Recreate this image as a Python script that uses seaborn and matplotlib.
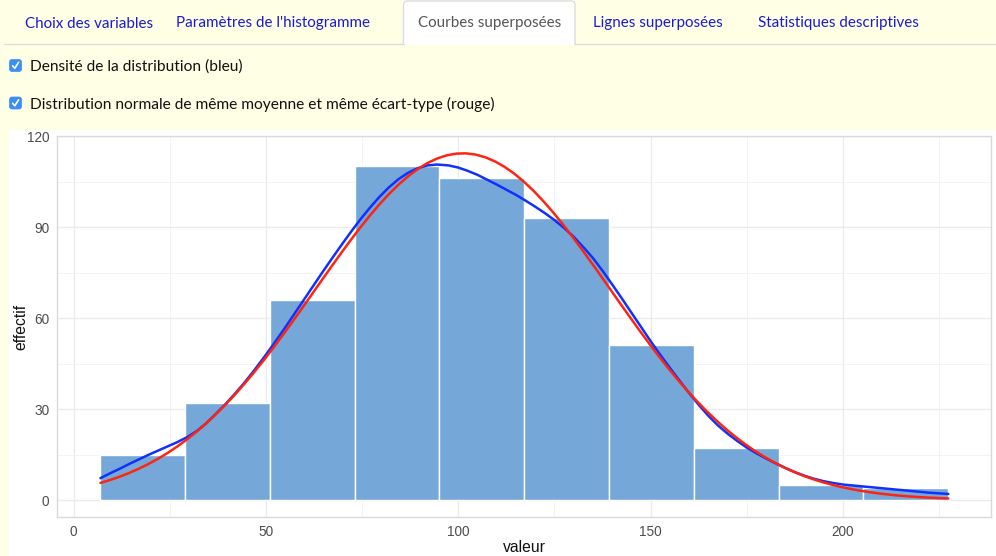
import numpy as np
import pandas as pd
import matplotlib
matplotlib.use("Agg")
import matplotlib.pyplot as plt
import seaborn as sns
from matplotlib.patches import FancyBboxPatch, Rectangle
from matplotlib.ticker import MultipleLocator, FixedLocator

# ---------------- data ----------------
tab_labels = ["Choix des variables", "Paramètres de l'histogramme",
              "Courbes superposées", "Lignes superposées",
              "Statistiques descriptives"]
active_tab = 2
checkbox_labels = ["Densité de la distribution (bleu)",
                   "Distribution normale de même moyenne et même écart-type (rouge)"]

bin_edges = [6.9, 28.95, 51.0, 73.05, 95.1, 117.15, 139.2, 161.25, 183.3, 205.35, 227.4]
bin_counts = [15, 32, 66, 110, 106, 93, 51, 17, 5, 4]

# density curve (blue)
kde_x = [7, 9.5, 12, 14.5, 17, 19.5, 22, 24.5, 27, 29.5, 32, 34.5, 37, 39.5,
         42, 44.5, 47, 49.5, 52, 54.5, 57, 59.5, 62, 64.5, 67, 69.5, 72, 74.5,
         77, 79.5, 82, 84.5, 87, 89.5, 92, 94.5,
         97.5, 100, 102.5, 105, 107.5, 110, 112.5, 115, 117.5, 120, 122.5, 125,
         127.5, 130, 132.5, 135, 137.5, 140, 142.5, 145, 147.5, 150, 152.5, 155,
         157.5, 160, 162.5, 165, 167.5, 170, 172.5, 175, 177.5, 180, 182.5, 185,
         187.5, 190, 192.5, 195, 197.5, 200, 202.5, 205, 207.5, 210, 212.5, 215,
         217.5, 220, 222.5, 225, 227.4]
kde_y = [7.2, 8.8, 10.3, 11.9, 13.4, 14.9, 16.3, 17.7, 19.1, 20.7, 22.7, 25.3,
         28.4, 31.6, 35.1, 38.8, 42.8, 47.0, 51.4, 55.9, 60.6, 65.3, 70.0, 74.7,
         79.3, 83.8, 88.2, 92.4, 96.3, 99.9, 103.1, 105.8, 107.9, 109.4, 110.3, 110.6,
         110.3, 109.6, 108.5, 107.2, 105.6, 104.0, 102.3, 100.6, 98.7, 96.7, 94.6,
         92.3, 89.7, 86.8, 83.4, 79.8, 75.6, 71.1, 66.5, 61.8, 57.1, 52.4, 47.9,
         43.6, 39.4, 35.3, 31.4, 27.8, 24.6, 21.9, 19.5, 17.3, 15.4, 13.7, 12.1,
         10.6, 9.2, 8.0, 7.0, 6.2, 5.6, 5.1, 4.8, 4.5, 4.2, 3.9, 3.6, 3.3, 3.0,
         2.7, 2.4, 2.2, 2.0]

# normal curve (red)
normal_x = [7, 9.5, 12, 14.5, 17, 19.5, 22, 24.5, 27, 29.5, 32, 34.5, 37, 39.5,
            42, 44.5, 47, 49.5, 52, 54.5, 57, 59.5, 62, 64.5, 67, 69.5, 72, 74.5,
            77, 79.5, 82, 84.5, 87, 89.5, 92, 94.5, 97, 99.5, 102, 104.5, 107,
            109.5, 112, 114.5, 117, 119.5, 122, 124.5, 127, 129.5, 132, 134.5,
            137, 139.5, 142, 144.5, 147, 149.5, 152, 154.5, 157, 159.5, 162,
            164.5, 167, 169.5, 172, 174.5, 177, 179.5, 182, 184.5, 187, 189.5,
            192, 194.5, 197, 199.5, 202, 204.5, 207, 209.5, 212, 214.5, 217,
            219.5, 222, 224.5, 227.4]
normal_y = [5.64, 6.60, 7.69, 8.93, 10.33, 11.89, 13.63, 15.55, 17.67, 20.00,
            22.53, 25.29, 28.26, 31.44, 34.83, 38.43, 42.21, 46.17, 50.30, 54.56,
            58.93, 63.38, 67.88, 72.39, 76.88, 81.29, 85.60, 89.76, 93.71, 97.43,
            100.87, 103.99, 106.75, 109.11, 111.07, 112.57, 113.62, 114.19, 114.28,
            113.88, 113.01, 111.66, 109.87, 107.65, 105.02, 102.03, 98.71, 95.08,
            91.21, 87.12, 82.86, 78.48, 74.02, 69.51, 64.99, 60.53, 56.12, 51.82,
            47.64, 43.62, 39.76, 36.10, 32.63, 29.38, 26.34, 23.50, 20.89, 18.48,
            16.29, 14.29, 12.49, 10.87, 9.42, 8.12, 6.98, 5.97, 5.09, 4.31, 3.65,
            3.07, 2.57, 2.14, 1.78, 1.47, 1.21, 0.99, 0.81, 0.66, 0.51]

x_ticks = [0, 50, 100, 150, 200]
y_ticks = [0, 30, 60, 90, 120]
x_label = "valeur"
y_label = "effectif"

# ---------------- figure ----------------
sns.set_theme(style="white")
plt.rcParams['font.family'] = ['Liberation Sans', 'DejaVu Sans']

W, H = 996, 556
BG = '#FFFFE6'
fig = plt.figure(figsize=(W / 100, H / 100), dpi=100)
fig.patch.set_facecolor(BG)

bg = fig.add_axes([0, 0, 1, 1])
bg.set_xlim(0, W)
bg.set_ylim(H, 0)
bg.axis('off')
bg.set_facecolor(BG)

# white plot region
bg.add_patch(Rectangle((9, 130), W - 9, H - 130, facecolor='white', edgecolor='none'))

# tab bar
tab_centers = [89.5, 272.5, 489.5, 657.5, 838.5]
tab_l, tab_r = 403.5, 575.0
bg.add_patch(FancyBboxPatch((tab_l, 1.0), tab_r - tab_l, 50,
                            boxstyle="round,pad=0,rounding_size=4",
                            facecolor='white', edgecolor='#DDDDDD', lw=1.0))
bg.add_patch(Rectangle((tab_l - 3, 44.5), tab_r - tab_l + 6, 12,
                       facecolor=BG, edgecolor='none'))
bg.plot([4, tab_l], [44, 44], color='#DDDDDD', lw=1.0)
bg.plot([tab_r, W], [44, 44], color='#DDDDDD', lw=1.0)
for i, (lab, cx) in enumerate(zip(tab_labels, tab_centers)):
    bg.text(cx, 23.5, lab, ha='center', va='center', fontsize=10.9,
            family=['Lato', 'DejaVu Sans'],
            color='#555555' if i == active_tab else '#1a1ad6')

# checkboxes
cb_y = [65.5, 103.0]
for lab, cy in zip(checkbox_labels, cb_y):
    bg.add_patch(FancyBboxPatch((9.5, cy - 6), 12, 12,
                                boxstyle="round,pad=0,rounding_size=2.5",
                                facecolor='#3B8FF2', edgecolor='#3B8FF2', lw=0.5))
    bg.plot([12.6, 14.8, 18.6], [cy + 0.3, cy + 2.8, cy - 3.2],
            color='white', lw=1.2, solid_capstyle='round')
    bg.text(30, cy + 1.5, lab, ha='left', va='center', fontsize=11.2,
            family=['Lato', 'DejaVu Sans'], color='#111111')

# ---------------- main plot ----------------
ax_l, ax_r, ax_t, ax_b = 57, 991, 136, 517
ax = fig.add_axes([ax_l / W, 1 - ax_b / H, (ax_r - ax_l) / W, (ax_b - ax_t) / H])
ax.set_facecolor('white')

centers = [(a + b) / 2 for a, b in zip(bin_edges[:-1], bin_edges[1:])]
hist_df = pd.DataFrame({"valeur": centers, "effectif": bin_counts})
sns.histplot(data=hist_df, x="valeur", weights="effectif", bins=bin_edges,
             ax=ax, color='#75A8D8', alpha=1.0, edgecolor='white', linewidth=1.0)

sns.lineplot(x=kde_x, y=kde_y, ax=ax, color='#1030FF', lw=1.8, estimator=None,
             sort=False, solid_joinstyle='round')
sns.lineplot(x=normal_x, y=normal_y, ax=ax, color='#FF2410', lw=1.8, estimator=None,
             sort=False, solid_joinstyle='round')

ax.set_xlim(-4.3, 238.5)
ax.set_ylim(-5.6, 120.0)
ax.xaxis.set_major_locator(FixedLocator(x_ticks))
ax.yaxis.set_major_locator(FixedLocator(y_ticks))
ax.xaxis.set_minor_locator(MultipleLocator(25))
ax.yaxis.set_minor_locator(MultipleLocator(15))
ax.set_axisbelow(True)
ax.grid(which='major', color='#EBEBEB', lw=1.0)
ax.grid(which='minor', color='#F3F3F3', lw=0.7)
ax.tick_params(which='minor', length=0)
ax.tick_params(which='major', length=3.5, width=0.8, color='#444444',
               labelsize=9.8, labelcolor='#4D4D4D', pad=2)
for s in ax.spines.values():
    s.set_color('#DADADA')
    s.set_linewidth(1.0)

ax.set_xlabel(x_label, fontsize=11.3, color='#111111', labelpad=1.0)
ax.set_ylabel(y_label, fontsize=11.3, color='#111111', labelpad=-1)

fig.savefig("out.png", dpi=100, facecolor=BG)
